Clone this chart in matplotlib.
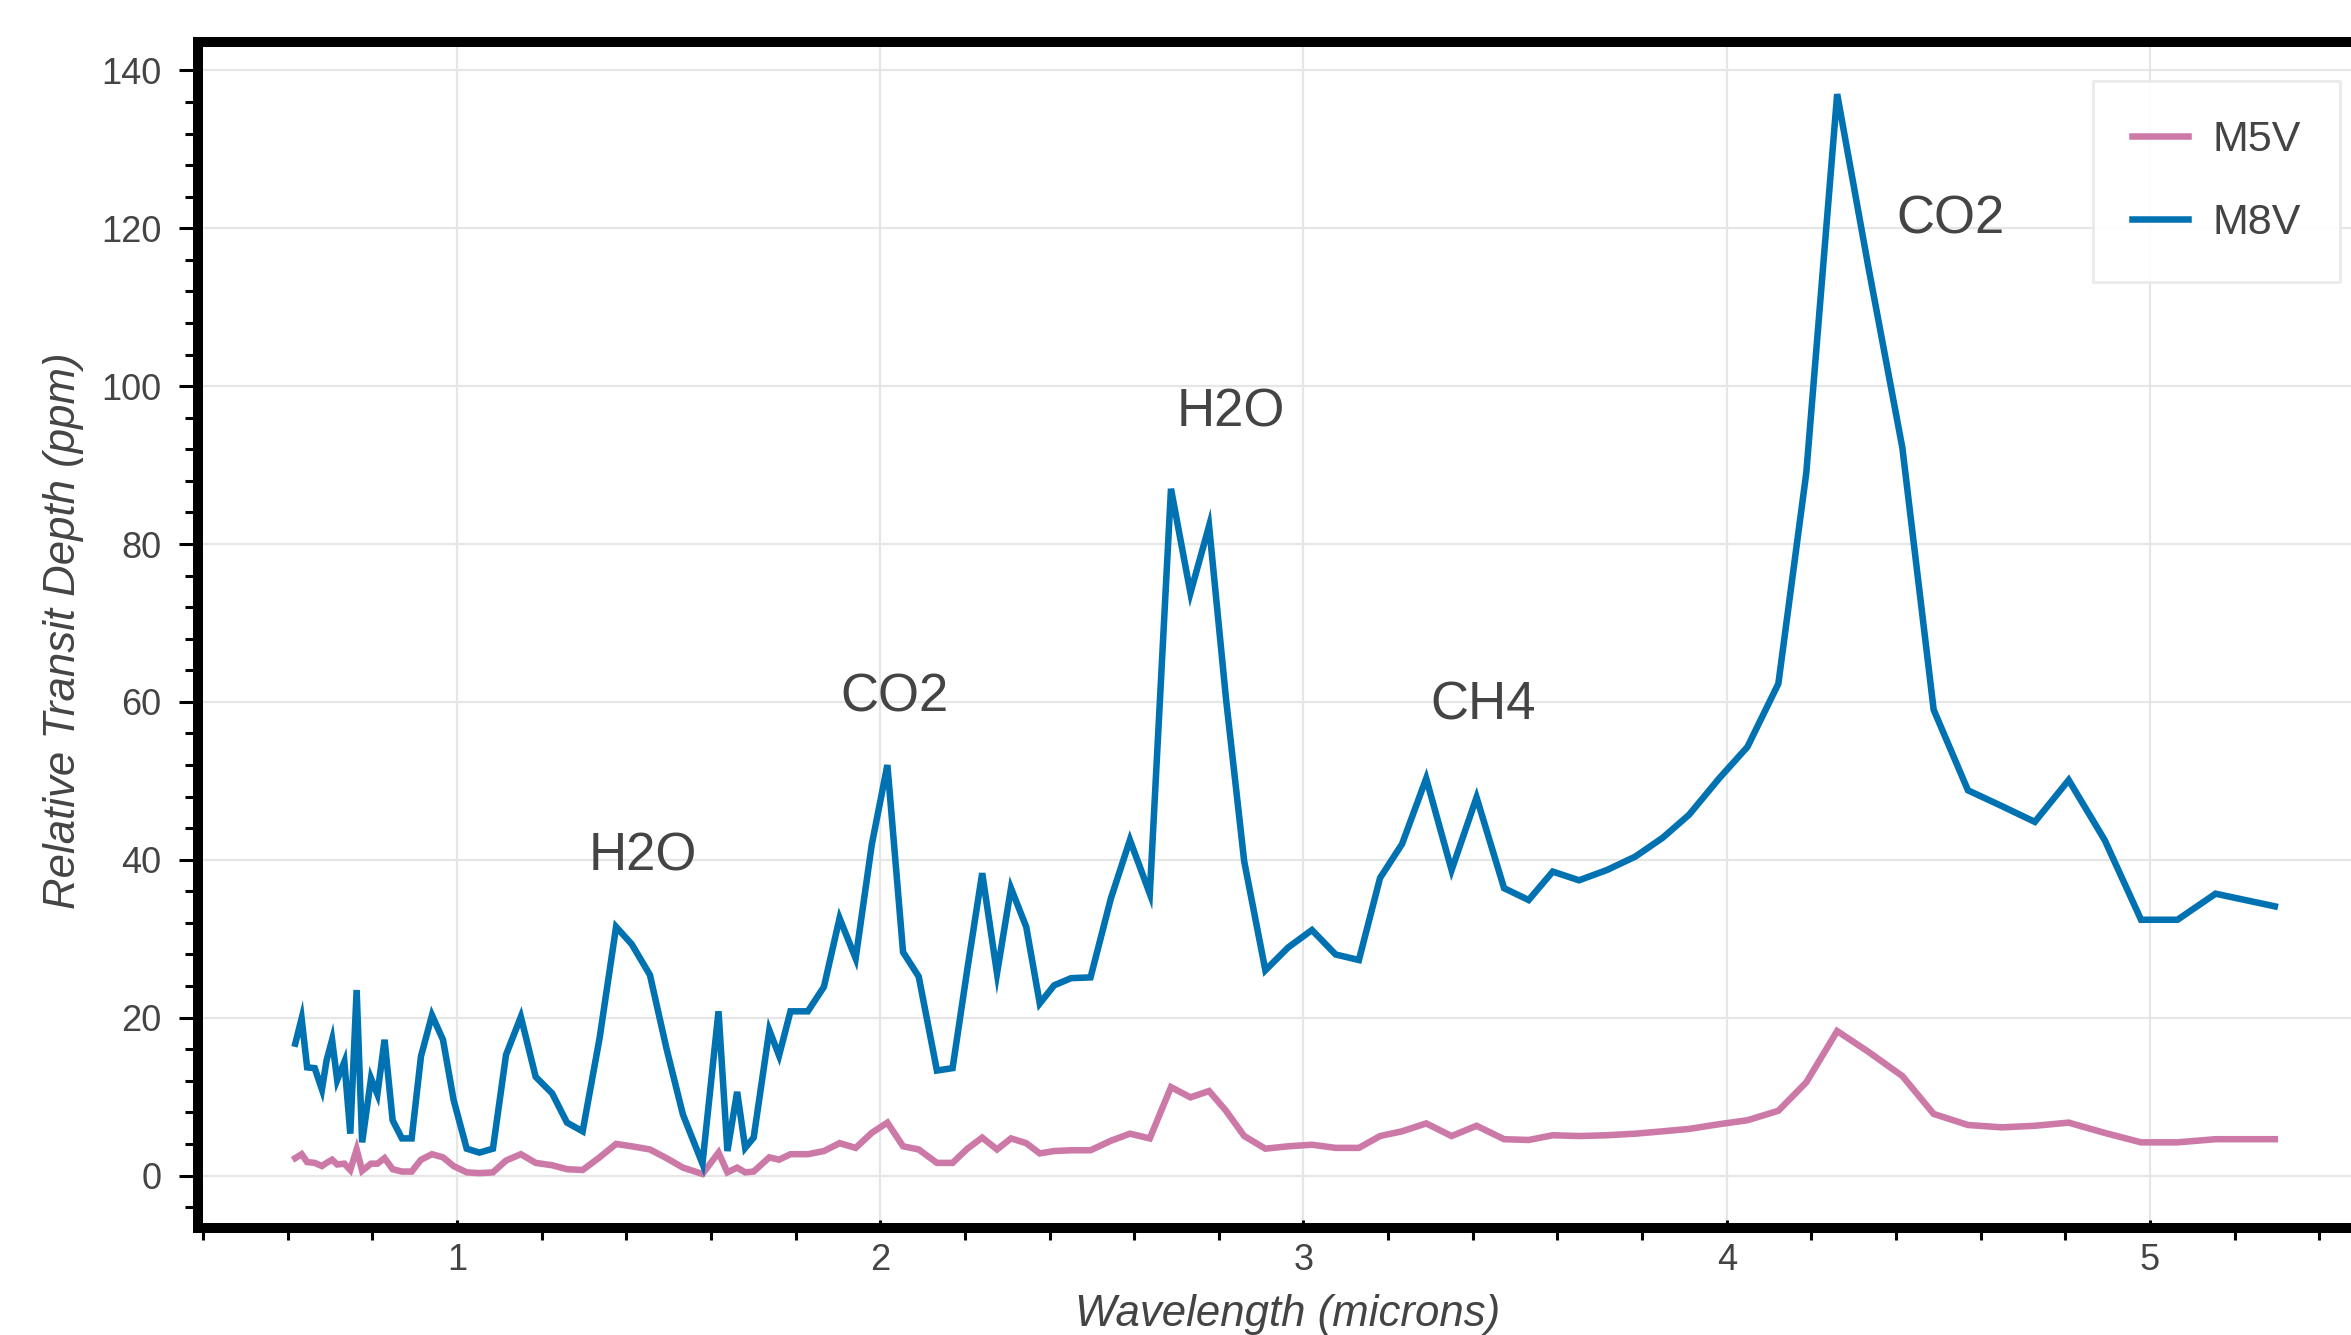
import matplotlib
matplotlib.use("Agg")
import matplotlib.pyplot as plt
from matplotlib.ticker import MultipleLocator

plt.rcParams['font.family'] = ['Liberation Sans', 'DejaVu Sans']

# Wavelength grid (microns), shared by both spectra
wavelength = [
    0.618, 0.633, 0.646, 0.664, 0.681, 0.692, 0.705, 0.717, 0.734, 0.748,
    0.763, 0.776, 0.797, 0.812, 0.829, 0.848, 0.870, 0.893, 0.915, 0.941,
    0.967, 0.992, 1.023, 1.053, 1.085, 1.116, 1.151, 1.186, 1.225, 1.260,
    1.297, 1.337, 1.376, 1.413, 1.456, 1.495, 1.534, 1.580, 1.618, 1.639,
    1.662, 1.681, 1.701, 1.738, 1.761, 1.788, 1.829, 1.867, 1.904, 1.942,
    1.980, 2.017, 2.054, 2.091, 2.134, 2.171, 2.206, 2.241, 2.276, 2.309,
    2.345, 2.377, 2.411, 2.451, 2.497, 2.545, 2.590, 2.637, 2.687, 2.733,
    2.777, 2.817, 2.860, 2.910, 2.964, 3.020, 3.076, 3.131, 3.181, 3.233,
    3.290, 3.350, 3.409, 3.474, 3.532, 3.589, 3.651, 3.717, 3.784, 3.849,
    3.911, 3.982, 4.049, 4.122, 4.188, 4.261, 4.334, 4.415, 4.489, 4.570,
    4.650, 4.728, 4.808, 4.893, 4.979, 5.065, 5.155, 5.295,
]

# Relative transit depth (ppm), M5V host
m5v = [
    2.2, 2.7, 1.7, 1.6, 1.2, 1.6, 2.0, 1.4, 1.5, 0.7,
    3.3, 0.6, 1.5, 1.5, 2.2, 0.8, 0.5, 0.5, 2.0, 2.7,
    2.3, 1.2, 0.4, 0.3, 0.4, 1.9, 2.7, 1.6, 1.3, 0.8,
    0.7, 2.3, 4.0, 3.7, 3.3, 2.2, 1.0, 0.2, 2.9, 0.4,
    1.0, 0.4, 0.5, 2.3, 2.0, 2.7, 2.7, 3.1, 4.1, 3.5,
    5.4, 6.7, 3.7, 3.3, 1.6, 1.6, 3.4, 4.8, 3.3, 4.7,
    4.1, 2.8, 3.1, 3.2, 3.2, 4.4, 5.3, 4.7, 11.2, 9.9,
    10.7, 8.2, 5.0, 3.4, 3.7, 3.9, 3.5, 3.5, 5.0, 5.6,
    6.6, 5.0, 6.3, 4.6, 4.5, 5.1, 5.0, 5.1, 5.3, 5.6,
    5.9, 6.5, 7.0, 8.2, 11.8, 18.3, 15.7, 12.6, 7.8, 6.4,
    6.1, 6.3, 6.7, 5.4, 4.2, 4.2, 4.6, 4.6,
]

# Relative transit depth (ppm), M8V host
m8v = [
    16.7, 19.9, 13.7, 13.6, 10.9, 14.6, 17.2, 12.1, 14.4, 5.3,
    23.5, 4.2, 12.3, 10.3, 17.2, 7.0, 4.7, 4.7, 15.1, 20.3,
    17.2, 9.6, 3.4, 2.9, 3.4, 15.3, 20.1, 12.5, 10.4, 6.7,
    5.6, 17.4, 31.5, 29.3, 25.4, 16.1, 7.7, 1.5, 20.8, 3.1,
    10.6, 3.5, 4.8, 18.4, 15.2, 20.8, 20.8, 23.9, 32.6, 27.5,
    41.9, 52.0, 28.3, 25.2, 13.3, 13.6, 26.2, 38.3, 25.6, 36.4,
    31.5, 21.8, 24.1, 25.0, 25.1, 35.1, 42.5, 35.7, 87.0, 73.8,
    82.3, 60.4, 39.8, 26.0, 28.9, 31.1, 28.0, 27.3, 37.7, 42.0,
    50.3, 38.7, 47.9, 36.4, 34.9, 38.5, 37.4, 38.7, 40.4, 42.8,
    45.7, 50.3, 54.3, 62.3, 89.0, 137.0, 115.3, 92.2, 59.0, 48.8,
    46.8, 44.8, 50.1, 42.5, 32.4, 32.4, 35.7, 34.1,
]

# Molecule labels: text, wavelength, depth
labels = ['H2O', 'CO2', 'H2O', 'CH4', 'CO2']
label_x = [1.31, 1.905, 2.70, 3.30, 4.40]
label_y = [38.7, 58.8, 94.9, 57.8, 119.4]

text_color = '#444444'

fig = plt.figure(figsize=(23.51, 13.35), dpi=100)
ax = fig.add_axes([197.5 / 2351, (1335 - 1228) / 1335,
                   (2351 - 197.5) / 2351, (1228 - 42) / 1335])

ax.plot(wavelength, m5v, color='#CC79A7', linewidth=4.7,
        solid_joinstyle='miter', label='M5V')
ax.plot(wavelength, m8v, color='#0072B2', linewidth=4.7,
        solid_joinstyle='miter', label='M8V')

for txt, lx, ly in zip(labels, label_x, label_y):
    ax.text(lx, ly, txt, fontsize=38, color=text_color,
            ha='left', va='baseline')

ax.set_xlim(0.387, 5.475)
ax.set_ylim(-6.65, 143.6)

ax.xaxis.set_major_locator(MultipleLocator(1))
ax.xaxis.set_minor_locator(MultipleLocator(0.2))
ax.yaxis.set_major_locator(MultipleLocator(20))
ax.yaxis.set_minor_locator(MultipleLocator(4))

ax.grid(True, which='major', color='#e6e6e6', linewidth=1.6)
ax.set_axisbelow(True)

for side in ['left', 'top', 'bottom']:
    ax.spines[side].set_linewidth(7.2)
    ax.spines[side].set_color('black')
ax.spines['right'].set_visible(False)

ax.tick_params(axis='y', which='major', direction='out', length=14,
               width=2.2, pad=12, labelsize=26, labelcolor=text_color)
ax.tick_params(axis='y', which='minor', direction='out', length=9.7, width=2.2)
ax.tick_params(axis='x', which='major', direction='in', length=6,
               width=2.2, pad=11, labelsize=26, labelcolor=text_color)
ax.tick_params(axis='x', which='minor', direction='out', length=8.6, width=2.2)

ax.set_xlabel('Wavelength (microns)', fontsize=31.5, style='italic',
              color=text_color, va='top')
ax.set_ylabel('Relative Transit Depth (ppm)', fontsize=31.5, style='italic',
              color=text_color)
ax.xaxis.set_label_coords(0.506, -0.056)
ax.yaxis.set_label_coords(-0.0525, 0.504)

leg = ax.legend(loc='center right', bbox_to_anchor=(0.9949, 0.8824),
                fontsize=31, frameon=True, fancybox=False, framealpha=0.9,
                edgecolor='#e8e8e8', borderpad=0.92, labelspacing=0.98,
                handlelength=1.3, handletextpad=0.55, borderaxespad=0)
leg.get_frame().set_linewidth(2)
for t in leg.get_texts():
    t.set_color(text_color)

fig.savefig('out.png', dpi=100)
